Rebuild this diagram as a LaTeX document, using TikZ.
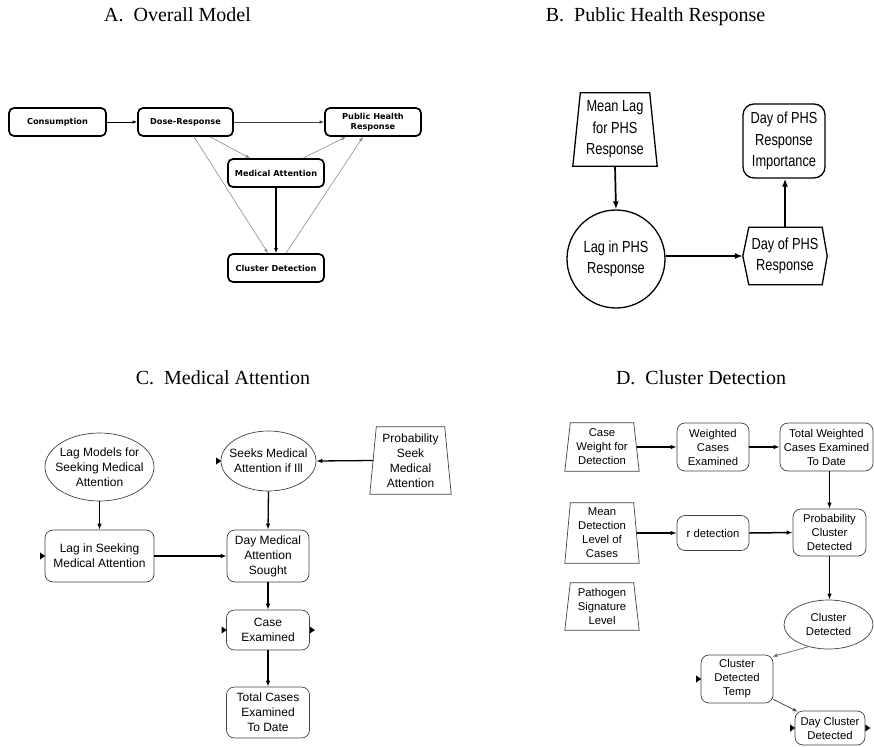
\documentclass[tikz,border=0pt]{standalone}
\usepackage{fontspec}
\setmainfont{Liberation Serif}
\newfontfamily\arialf{Liberation Sans}
\newfontfamily\narrowf[FakeStretch=0.8]{Liberation Sans}
\newfontfamily\dejavf{DejaVu Sans}
\usetikzlibrary{arrows.meta,shapes.geometric,calc}
\newcommand\inmark[1]{\fill ($(#1)+(-4.5,-3.5)$) -- ($(#1)+(-4.5,3.5)$) -- ($(#1)+(0.5,0)$) -- cycle;}
\newcommand\outmark[1]{\fill ($(#1)+(0,-3.5)$) -- ($(#1)+(0,3.5)$) -- ($(#1)+(5,0)$) -- cycle;}
\newcommand\trapdraw[3]{\draw[#3] (#1.south west) -- ($(#1.north west)+(#2,0)$) -- ($(#1.north east)+(-#2,0)$) -- (#1.south east) -- cycle;}
\begin{document}
\begin{tikzpicture}[x=1pt,y=-1pt,
  ttl/.style={font=\fontsize{20}{24}\selectfont, anchor=base, inner sep=0},
  abox/.style={draw, line width=1.7pt, rounded corners=5pt, minimum height=28pt, minimum width=96pt, inner sep=0, align=center, font=\dejavf\bfseries\fontsize{8.2}{10.5}\selectfont},
  alnk/.style={-{Latex[length=4.5pt,width=3.5pt]}, line width=0.6pt, draw=black!45},
  blnk/.style={-{Latex[length=8pt,width=6pt]}, line width=1.7pt},
  btxt/.style={inner sep=0, align=center, font=\narrowf\fontsize{16}{21.5}\selectfont},
  bshape/.style={draw, line width=1.3pt, inner sep=0},
  cshape/.style={draw=black!75, line width=0.7pt, inner sep=0, align=center, font=\arialf\fontsize{12}{15}\selectfont},
  ctxt/.style={inner sep=0, align=center, font=\arialf\fontsize{12}{15}\selectfont},
  dshape/.style={draw=black!75, line width=0.7pt, inner sep=0, align=center, font=\arialf\fontsize{11.3}{14}\selectfont},
  dtxt/.style={inner sep=0, align=center, font=\arialf\fontsize{11.3}{14}\selectfont},
  rbox/.style={rounded corners=8pt},
  clnk/.style={-{Latex[length=6pt,width=4.5pt]}, line width=1.3pt},
  dlnk/.style={-{Latex[length=6pt,width=4.5pt]}, line width=1.5pt},
  glnk/.style={-{Latex[length=5pt,width=4pt]}, line width=0.8pt, draw=black!55}
]
\useasboundingbox (0,0) rectangle (874,746);

% Titles
\node[ttl] (tA) at (177.5,21.5) {A.\enspace Overall Model};
\node[ttl] (tB) at (655.5,21.5) {B.\enspace Public Health Response};
\node[ttl] (tC) at (223,384.5) {C.\enspace Medical Attention};
\node[ttl] (tD) at (701,384.5) {D.\enspace Cluster Detection};

% Panel A
\node[abox, minimum width=97pt] (cons) at (57.5,122) {Consumption};
\node[abox, minimum width=95pt] (dose) at (185.5,122) {Dose-Response};
\node[abox] (phr) at (373,122) {Public Health\\Response};
\node[abox] (med) at (276,173) {Medical Attention};
\node[abox] (clu) at (276,268) {Cluster Detection};
\draw[alnk, draw=black, line width=0.9pt] (cons.east) -- (dose.west);
\draw[alnk, draw=black!75, line width=0.8pt] (dose.east) -- (phr.west);
\draw[alnk] ($(dose.south)+(24.5,0)$) -- ($(med.north)+(-26,0)$);
\draw[alnk] ($(dose.south)+(8.5,0)$) -- ($(clu.north)+(-8,0)$);
\draw[alnk] ($(med.north)+(27,0)$) -- ($(phr.south)+(-27,0)$);
\draw[alnk] ($(clu.north)+(10,0)$) -- ($(phr.south)+(-10,0)$);
\draw[-{Latex[length=5pt,width=4pt]}, line width=1.6pt] (med.south) -- (clu.north);

% Panel B
\node[btxt, minimum width=84pt, minimum height=73pt] (mlag) at (615,129.5) {Mean Lag\\for PHS\\Response};
\trapdraw{mlag}{7.5}{line width=1.3pt}
\node[bshape, circle, minimum size=98pt] (lagphs) at (616,259) {};
\node[btxt] (lagphst) at (lagphs.center) {Lag in PHS\\Response};
\node[btxt, minimum width=84pt, minimum height=57pt] (dayphs) at (785,256) {Day of PHS\\Response};
\draw[line width=1.3pt] (dayphs.west) -- ($(dayphs.north west)+(6,0)$) -- ($(dayphs.north east)+(-5,0)$) -- (dayphs.east) -- ($(dayphs.south east)+(-5,0)$) -- ($(dayphs.south west)+(6,0)$) -- cycle;
\node[bshape, rounded corners=11pt, minimum width=82pt, minimum height=74pt, btxt, draw] (imp) at (784,141) {Day of PHS\\Response\\Importance};
\draw[blnk] (mlag.south) -- (lagphs.north);
\draw[blnk] (lagphs.east |- dayphs.west) -- (dayphs.west);
\draw[blnk] (dayphs.north) -- (dayphs.north |- imp.south);

% Panel C
\node[cshape, ellipse, minimum width=109pt, minimum height=68pt] (lagmod) at (99.5,467) {};
\node[ctxt] (lagmodt) at (lagmod.center) {Lag Models for\\Seeking Medical\\Attention};
\node[cshape, rbox, minimum width=109pt, minimum height=52pt] (lagseek) at (99.5,556) {Lag in Seeking\\Medical Attention};
\node[cshape, ellipse, minimum width=95pt, minimum height=60pt] (seeks) at (268.5,461) {};
\node[ctxt] (seekst) at (seeks.center) {Seeks Medical\\Attention if Ill};
\node[ctxt, minimum width=81pt, minimum height=67pt] (prob) at (410.5,460.5) {Probability\\Seek\\Medical\\Attention};
\trapdraw{prob}{6.5}{draw=black!75, line width=0.7pt}
\node[cshape, rbox, minimum width=82pt, minimum height=52pt] (daymed) at (268,556) {Day Medical\\Attention\\Sought};
\node[cshape, rbox, minimum width=83pt, minimum height=40pt] (caseex) at (268,630) {Case\\Examined};
\node[cshape, rbox, minimum width=83pt, minimum height=51pt] (total) at (268,712.5) {Total Cases\\Examined\\To Date};
\draw[clnk] (lagmod.south) -- (lagseek.north);
\draw[clnk] (lagseek.east) -- (daymed.west);
\draw[clnk] ($(prob.west)+(3.5,0)$) -- (seeks.east);
\draw[clnk] (seeks.south) -- (daymed.north);
\draw[clnk] (daymed.south) -- (caseex.north);
\draw[clnk] (caseex.south) -- (total.north);
\inmark{lagseek.west}
\inmark{seeks.west}
\inmark{caseex.west}
\outmark{caseex.east}

% Panel D
\node[dtxt, minimum width=74pt, minimum height=48pt] (cw) at (602,447) {Case\\Weight for\\Detection};
\trapdraw{cw}{5.5}{draw=black!75, line width=0.7pt}
\node[dshape, rbox, minimum width=72pt, minimum height=48pt] (wce) at (713,447) {Weighted\\Cases\\Examined};
\node[dshape, rbox, minimum width=93pt, minimum height=48pt] (twc) at (826.5,447) {Total Weighted\\Cases Examined\\To Date};
\node[dtxt, minimum width=74pt, minimum height=60pt] (mdl) at (602,533) {Mean\\Detection\\Level of\\Cases};
\trapdraw{mdl}{5.5}{draw=black!75, line width=0.7pt}
\node[dshape, rbox, minimum width=72pt, minimum height=35pt] (rdet) at (713,533) {r detection};
\node[dshape, rbox, minimum width=73pt, minimum height=47pt] (pcd) at (829.5,532.5) {Probability\\Cluster\\Detected};
\node[dtxt, minimum width=74pt, minimum height=47pt] (path) at (602,606.5) {Pathogen\\Signature\\Level};
\trapdraw{path}{5.5}{draw=black!75, line width=0.7pt}
\node[dshape, ellipse, minimum width=89pt, minimum height=49pt] (cd) at (828.5,624.5) {};
\node[dtxt] (cdt) at (cd.center) {Cluster\\Detected};
\node[dshape, rbox, minimum width=72pt, minimum height=48pt] (temp) at (737,679) {Cluster\\Detected\\Temp};
\node[dshape, rbox, minimum width=70pt, minimum height=34pt] (daycl) at (830,728) {Day Cluster\\Detected};
\draw[dlnk] ($(cw.east)+(-2.5,0)$) -- (wce.west);
\draw[dlnk] (wce.east) -- (twc.west);
\draw[dlnk] (pcd.north |- twc.south) -- (pcd.north);
\draw[dlnk] ($(mdl.east)+(-2.5,0)$) -- (rdet.west);
\draw[dlnk] (rdet.east) -- (pcd.west);
\draw[dlnk] (pcd.south) -- (pcd.south |- cd.north);
\draw[glnk] (cd.228) -- ($(temp.north east)+(-1,2)$);
\draw[glnk, draw=black!70] ($(temp.south east)+(0,-4)$) -- ($(daycl.north west)+(3,1)$);
\inmark{temp.west}
\inmark{daycl.west}
\outmark{daycl.east}
\end{tikzpicture}
\end{document}
